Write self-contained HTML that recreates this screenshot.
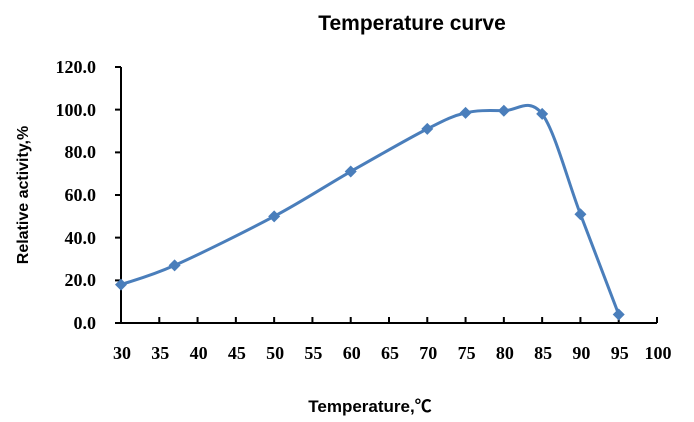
<!DOCTYPE html>
<html><head><meta charset="utf-8"><style>
html,body{margin:0;padding:0;background:#fff;}
svg{display:block;}
</style></head><body>
<svg id="s" width="694" height="422" xmlns="http://www.w3.org/2000/svg">
<text x="412" y="30" text-anchor="middle" font-family="Liberation Sans, sans-serif" font-weight="bold" font-size="21">Temperature  curve</text>
<g font-family="Liberation Serif, serif" font-weight="bold" font-size="18" text-anchor="end">
<text x="96" y="73">120.0</text>
<text x="96" y="116">100.0</text>
<text x="96" y="158">80.0</text>
<text x="96" y="201">60.0</text>
<text x="96" y="244">40.0</text>
<text x="96" y="286">20.0</text>
<text x="96" y="329">0.0</text>
</g>
<g id="xl" font-family="Liberation Serif, serif" font-weight="bold" font-size="18" text-anchor="middle"></g>
<text transform="translate(28,195) rotate(-90)" text-anchor="middle" font-family="Liberation Sans, sans-serif" font-weight="bold" font-size="16">Relative activity,%</text>
<text x="370" y="412" text-anchor="middle" font-family="Liberation Sans, 'Noto Sans CJK SC', sans-serif" font-weight="bold" font-size="17">Temperature,℃</text>
<g stroke="#000" stroke-width="2" fill="none" id="ax">
<path d="M121 67 V323 H657"/>
</g>
<path id="ln" fill="none" stroke="#4a7ebb" stroke-width="3"/>
<g id="mk" fill="#4a7ebb"></g>
</svg>
<script>
var ns="http://www.w3.org/2000/svg";
var W=536;
var ax=document.getElementById('ax'),xl=document.getElementById('xl');
var d="";
for(var v=0;v<=120;v+=20){var y=323-v*256/120;d+="M115 "+y+"H121";}
for(var k=1;k<=14;k++){var x=121+k*W/14;d+="M"+x+" 323V317";}
var p=document.createElementNS(ns,'path');p.setAttribute('d',d);ax.appendChild(p);
for(var k=0;k<=14;k++){var t=document.createElementNS(ns,'text');t.setAttribute('x',(122+k*W/14));t.setAttribute('y',359);t.textContent=30+5*k;xl.appendChild(t);}
var data=[[30,18],[37,27],[50,50],[60,71],[70,91],[75,98.5],[80,99.5],[85,98],[90,51],[95,4]];
var P=data.map(function(a){return [121+(a[0]-30)*W/70,323-a[1]*256/120];});
var s="M"+P[0][0]+" "+P[0][1];
for(var i=0;i<P.length-1;i++){
 var p0=P[i-1]||P[i],p1=P[i],p2=P[i+1],p3=P[i+2]||P[i+1];
 var c1=[p1[0]+(p2[0]-p0[0])/6,p1[1]+(p2[1]-p0[1])/6];
 var c2=[p2[0]-(p3[0]-p1[0])/6,p2[1]-(p3[1]-p1[1])/6];
 s+=" C"+c1[0]+" "+c1[1]+" "+c2[0]+" "+c2[1]+" "+p2[0]+" "+p2[1];
}
document.getElementById('ln').setAttribute('d',s);
var mk=document.getElementById('mk');
P.forEach(function(q){var r=document.createElementNS(ns,'path');r.setAttribute('d',"M"+q[0]+" "+(q[1]-6)+"L"+(q[0]+6)+" "+q[1]+"L"+q[0]+" "+(q[1]+6)+"L"+(q[0]-6)+" "+q[1]+"Z");mk.appendChild(r);});
</script>
</body></html>
